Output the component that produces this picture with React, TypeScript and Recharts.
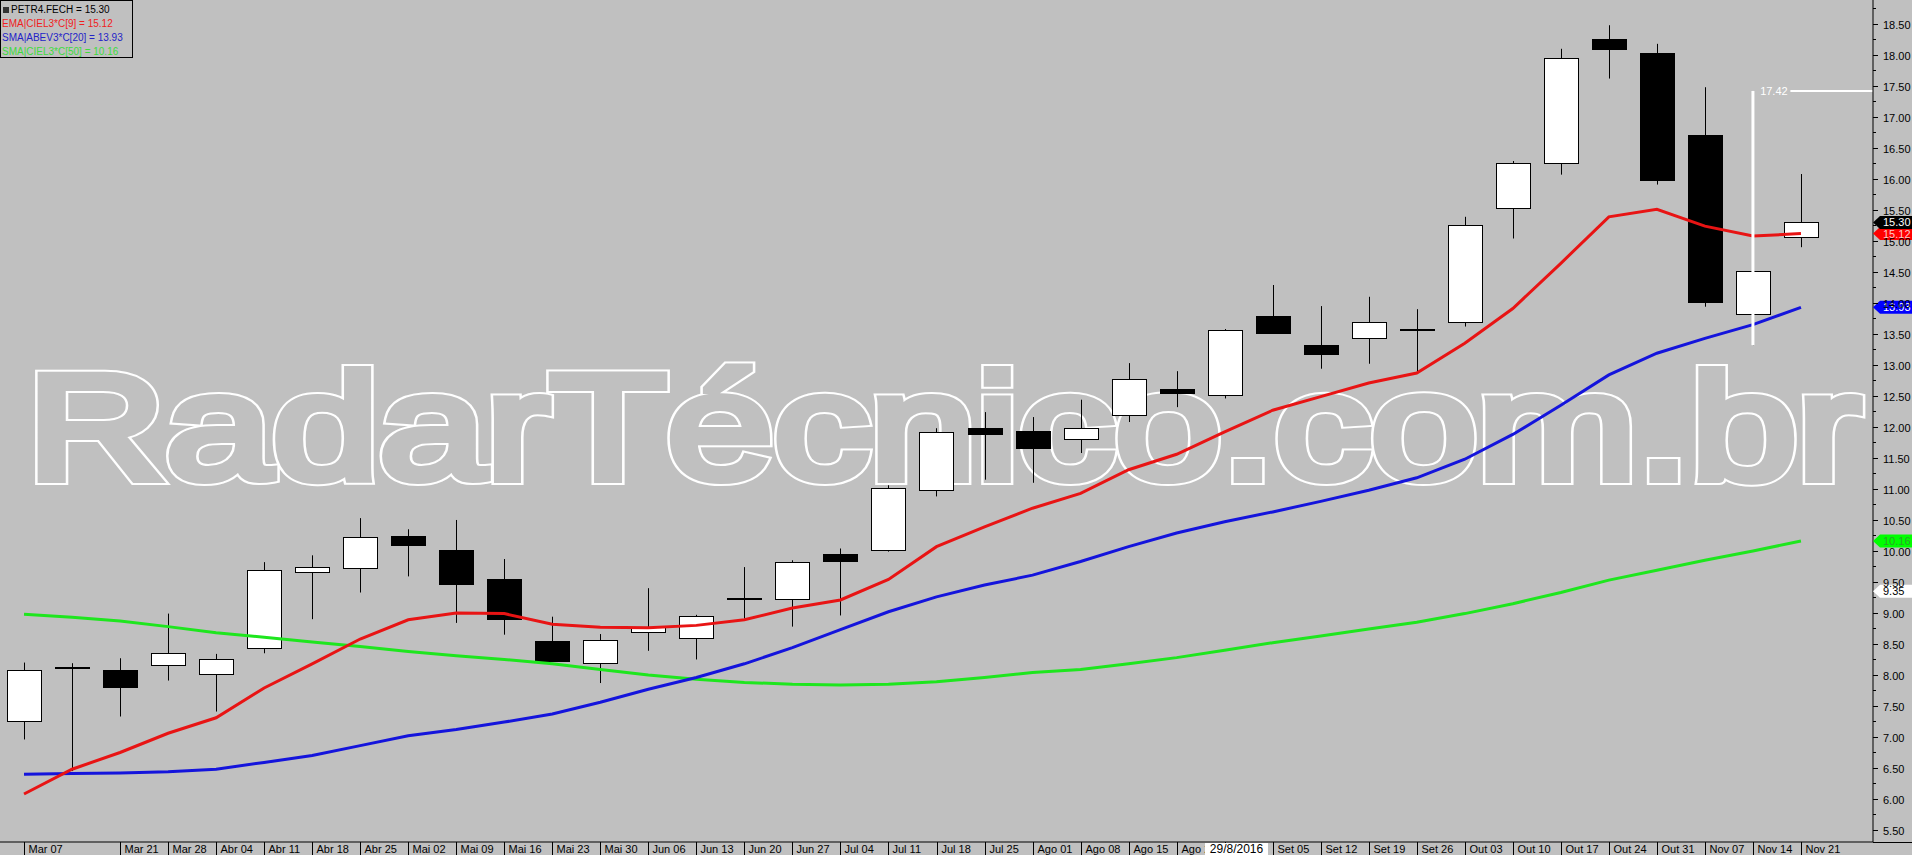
import { ComposedChart, Bar, Line, XAxis, YAxis, ReferenceLine, ReferenceDot } from 'recharts';

// weekly candles, PETR4
const WEEKS = [
  'Mar 07', 'Mar 14', 'Mar 21', 'Mar 28', 'Abr 04', 'Abr 11', 'Abr 18', 'Abr 25',
  'Mai 02', 'Mai 09', 'Mai 16', 'Mai 23', 'Mai 30', 'Jun 06', 'Jun 13', 'Jun 20',
  'Jun 27', 'Jul 04', 'Jul 11', 'Jul 18', 'Jul 25', 'Ago 01', 'Ago 08', 'Ago 15',
  'Ago 22', 'Ago 29', 'Set 05', 'Set 12', 'Set 19', 'Set 26', 'Out 03', 'Out 10',
  'Out 17', 'Out 24', 'Out 31', 'Nov 07', 'Nov 14', 'Nov 21',
];
const OPEN = [
  7.25, 8.12, 8.08, 8.16, 8.01, 8.43, 9.66, 9.72, 10.24, 10.02, 9.54, 8.55, 8.19, 8.7, 8.59, 9.22,
  9.22, 9.95, 10.01, 10.98, 11.98, 11.94, 11.8, 12.2, 12.62, 12.51, 13.79, 13.32, 13.43, 13.57,
  13.69, 15.53, 16.25, 18.26, 18.03, 16.71, 13.82, 15.06,
];
const HIGH = [
  8.2, 8.19, 8.27, 8.99, 8.34, 9.82, 9.93, 10.53, 10.35, 10.5, 9.87, 8.94, 8.66, 9.4, 8.97, 9.74,
  9.85, 10.04, 11.06, 11.98, 12.24, 12.16, 12.44, 13.03, 12.9, 13.58, 14.29, 13.95, 14.1, 13.9,
  15.39, 16.29, 18.1, 18.48, 18.18, 17.48, 14.53, 16.08,
];
const LOW = [
  6.96, 6.45, 7.33, 7.91, 7.41, 8.35, 8.9, 9.33, 9.59, 8.84, 8.65, 8.22, 7.87, 8.39, 8.25, 8.91,
  8.78, 8.96, 9.99, 10.88, 11.15, 11.1, 11.58, 12.08, 12.32, 12.46, 13.5, 12.94, 13.02, 12.89,
  13.62, 15.04, 16.07, 17.62, 15.91, 13.94, 13.32, 14.9,
];
const CLOSE = [
  8.08, 8.13, 7.81, 8.35, 8.25, 9.69, 9.74, 10.22, 10.09, 9.46, 8.91, 8.23, 8.56, 8.78, 8.95, 9.24,
  9.82, 9.84, 11.01, 11.92, 11.88, 11.66, 11.99, 12.78, 12.55, 13.56, 13.52, 13.17, 13.69, 13.58,
  15.25, 16.25, 17.95, 18.1, 15.99, 14.02, 14.51, 15.3,
];
const EMA9 = [
  6.08, 6.48, 6.75, 7.06, 7.31, 7.79, 8.18, 8.58, 8.89, 9.0, 8.99, 8.82, 8.77, 8.76, 8.8, 8.89,
  9.08, 9.21, 9.54, 10.07, 10.39, 10.69, 10.93, 11.31, 11.56, 11.92, 12.27, 12.49, 12.71, 12.87,
  13.35, 13.91, 14.64, 15.39, 15.51, 15.24, 15.08, 15.12,
];
const SMA20 = [
  6.4, 6.41, 6.42, 6.44, 6.48, 6.59, 6.7, 6.86, 7.02, 7.12, 7.24, 7.37, 7.56, 7.77, 7.96, 8.18,
  8.44, 8.73, 9.02, 9.26, 9.45, 9.61, 9.83, 10.07, 10.29, 10.47, 10.63, 10.8, 10.98, 11.18,
  11.48, 11.88, 12.35, 12.84, 13.19, 13.43, 13.65, 13.93,
];
const SMA50 = [
  8.98, 8.93, 8.87, 8.78, 8.68, 8.61, 8.53, 8.46, 8.38, 8.31, 8.25, 8.18, 8.09, 8.0, 7.93, 7.88,
  7.85, 7.84, 7.85, 7.89, 7.96, 8.04, 8.09, 8.18, 8.28, 8.4, 8.52, 8.63, 8.74, 8.85,
  8.99, 9.15, 9.33, 9.53, 9.69, 9.85, 10.0, 10.16,
];

// Mar 14 has no label on the time axis
const X_LABELED = WEEKS.map((_, i) => i).filter((i) => i !== 1);
const Y_MAJOR = [
  5.5, 6, 6.5, 7, 7.5, 8, 8.5, 9, 9.5, 10, 10.5, 11, 11.5, 12, 12.5, 13, 13.5, 14, 14.5, 15,
  15.5, 16, 16.5, 17, 17.5, 18, 18.5,
];
const Y_TICKS = Y_MAJOR.flatMap((v) => [v, v + 0.25]);

// crosshair drawn on the chart
const CROSS_WEEK = 36;
const CROSS_TOP = 17.42;
const CROSS_LOW = 13.32;
const CURSOR_PRICE = 9.35;
const CURSOR_DATE = '29/8/2016';
const WATERMARK = 'RadarTécnico.com.br';

const rows = WEEKS.map((week, i) => ({
  i,
  week,
  open: OPEN[i],
  high: HIGH[i],
  low: LOW[i],
  close: CLOSE[i],
  ema: EMA9[i],
  sma20: SMA20[i],
  sma50: SMA50[i],
}));

const last = WEEKS.length - 1;
const W = 1912;
const H = 855;
const PLOT_W = 1873;
const PLOT_H = 842;
const BG = '#c0c0c0';
const FONT = '"Liberation Sans", Arial, sans-serif';
const RED = '#e81414';
const BLUE = '#1414dc';
const GREEN = '#1ee61e';

function Candle(props: any) {
  const { x, y, width, height, payload } = props;
  if (!payload || height == null) return null;
  const top = Math.min(y, y + height);
  const h = Math.abs(height);
  const k = h / (payload.high - payload.low);
  const py = (v: number) => top + (payload.high - v) * k;
  const cx = Math.round(x + width / 2) + 0.5;
  const up = payload.close >= payload.open;
  const bTop = Math.round(py(Math.max(payload.open, payload.close))) + 0.5;
  const bBot = Math.round(py(Math.min(payload.open, payload.close))) + 0.5;
  return (
    <g>
      <line x1={cx} x2={cx} y1={top} y2={top + h} stroke="#000" strokeWidth={1} />
      <rect
        x={cx - 17}
        y={bTop}
        width={34}
        height={Math.max(bBot - bTop, 1)}
        fill={up ? '#fff' : '#000'}
        stroke="#000"
        strokeWidth={1}
      />
    </g>
  );
}

function XTick({ x, payload }: any) {
  const xx = Math.round(x) + 0.5;
  return (
    <g>
      <line x1={xx} x2={xx} y1={PLOT_H} y2={H} stroke="#000" />
      <text x={xx + 4} y={853} fontSize={11} fontFamily={FONT} fill="#000">
        {WEEKS[payload.value]}
      </text>
    </g>
  );
}

function YTick({ y, payload }: any) {
  const v = payload.value as number;
  const major = Math.abs(v * 2 - Math.round(v * 2)) < 1e-6;
  const yy = Math.round(y) + 0.5;
  return (
    <g>
      <line x1={PLOT_W} x2={PLOT_W + (major ? 5 : 3)} y1={yy} y2={yy} stroke="#000" />
      {major && (
        <text x={PLOT_W + 10} y={yy + 4} fontSize={11} fontFamily={FONT} fill="#000">
          {v.toFixed(2)}
        </text>
      )}
    </g>
  );
}

const priceTag = (bg: string, fg: string, value: number) => (p: any) => {
  const { cx, cy } = p;
  const pts = `${cx},${cy} ${cx + 7},${cy - 6.5} ${W},${cy - 6.5} ${W},${cy + 6.5} ${cx + 7},${cy + 6.5}`;
  return (
    <g>
      <polygon points={pts} fill={bg} />
      <text x={cx + 10} y={cy + 4} fontSize={11} fontFamily={FONT} fill={fg}>
        {value.toFixed(2)}
      </text>
    </g>
  );
};

const crossLabel = (p: any) => (
  <text x={p.cx} y={p.cy + 4} fontSize={11} fontFamily={FONT} fill="#fff">
    {CROSS_TOP.toFixed(2)}
  </text>
);

// outlined heavy lettering: a wide white stroke, then a narrower background stroke on top
function Watermark() {
  const common = {
    x: 27,
    y: 479,
    fontSize: 151,
    fontFamily: FONT,
    textLength: 1834,
    lengthAdjust: 'spacingAndGlyphs' as const,
    fill: BG,
  };
  return (
    <svg width={W} height={H} style={{ position: 'absolute', left: 0, top: 0 }}>
      <text {...common} stroke="#fff" strokeWidth={12}>
        {WATERMARK}
      </text>
      <text {...common} stroke={BG} strokeWidth={8}>
        {WATERMARK}
      </text>
    </svg>
  );
}

export default function App() {
  return (
    <div style={{ position: 'relative', width: W, height: H, background: BG, overflow: 'hidden' }}>
      <style>{'body{margin:0}'}</style>
      <Watermark />
      <div style={{ position: 'absolute', left: 0, top: 0 }}>
        <ComposedChart width={W} height={H} data={rows} margin={{ top: 0, right: 0, bottom: 0, left: 0 }}>
          <XAxis
            dataKey="i"
            type="number"
            domain={[-0.5, 38.5]}
            allowDataOverflow
            ticks={X_LABELED}
            interval={0}
            height={13}
            tick={<XTick />}
            tickLine={false}
            axisLine={{ stroke: '#000' }}
          />
          <YAxis
            orientation="right"
            type="number"
            domain={[5.306, 18.887]}
            allowDataOverflow
            ticks={Y_TICKS}
            interval={0}
            width={39}
            tick={<YTick />}
            tickLine={false}
            tickSize={0}
            tickMargin={0}
            axisLine={{ stroke: '#000' }}
          />
          <Bar
            dataKey={(d: any) => [d.low, d.high]}
            barSize={34}
            shape={<Candle />}
            isAnimationActive={false}
          />
          <Line dataKey="sma50" type="linear" stroke={GREEN} strokeWidth={3} dot={false} activeDot={false} isAnimationActive={false} />
          <Line dataKey="sma20" type="linear" stroke={BLUE} strokeWidth={3} dot={false} activeDot={false} isAnimationActive={false} />
          <Line dataKey="ema" type="linear" stroke={RED} strokeWidth={3} dot={false} activeDot={false} isAnimationActive={false} />
          <ReferenceLine
            segment={[{ x: CROSS_WEEK, y: CROSS_TOP }, { x: CROSS_WEEK, y: CROSS_LOW }]}
            stroke="#fff"
            strokeWidth={3}
          />
          <ReferenceLine
            segment={[{ x: 36.78, y: CROSS_TOP }, { x: 38.5, y: CROSS_TOP }]}
            stroke="#fff"
            strokeWidth={2}
          />
          <ReferenceDot x={36.15} y={CROSS_TOP} r={0} ifOverflow="visible" shape={crossLabel} />
          <ReferenceDot x={38.5} y={SMA50[last]} r={0} ifOverflow="visible" shape={priceTag('#00ff00', '#2aa52a', SMA50[last])} />
          <ReferenceDot x={38.5} y={CURSOR_PRICE} r={0} ifOverflow="visible" shape={priceTag('#ffffff', '#000', CURSOR_PRICE)} />
          <ReferenceDot x={38.5} y={SMA20[last]} r={0} ifOverflow="visible" shape={priceTag('#0000ff', '#fff', SMA20[last])} />
          <ReferenceDot x={38.5} y={EMA9[last]} r={0} ifOverflow="visible" shape={priceTag('#ff0000', '#ffc8c8', EMA9[last])} />
          <ReferenceDot x={38.5} y={CLOSE[last]} r={0} ifOverflow="visible" shape={priceTag('#000', '#fff', CLOSE[last])} />
        </ComposedChart>
      </div>
      <div style={{ position: 'absolute', left: PLOT_W, top: PLOT_H, width: W - PLOT_W, height: 1, background: '#000' }} />
      <div
        style={{
          position: 'absolute',
          left: 1205,
          top: 843,
          width: 63,
          height: 12,
          background: '#fff',
          fontFamily: FONT,
          fontSize: 12,
          lineHeight: '12px',
          textAlign: 'center',
          color: '#000',
        }}
      >
        {CURSOR_DATE}
      </div>
      <div
        style={{
          position: 'absolute',
          left: 0,
          top: 0,
          width: 133,
          height: 58,
          boxSizing: 'border-box',
          border: '1px solid #000',
          fontFamily: FONT,
          fontSize: 10,
          lineHeight: '14px',
          paddingTop: 2,
          paddingLeft: 1,
          whiteSpace: 'nowrap',
        }}
      >
        <div style={{ color: '#000' }}>
          <span style={{ display: 'inline-block', width: 6, height: 6, background: '#333', margin: '0 2px 0 1px' }} />
          PETR4.FECH = {CLOSE[last].toFixed(2)}
        </div>
        <div style={{ color: '#f02020' }}>EMA|CIEL3*C[9] = {EMA9[last].toFixed(2)}</div>
        <div style={{ color: '#2323c8' }}>SMA|ABEV3*C[20] = {SMA20[last].toFixed(2)}</div>
        <div style={{ color: '#3ddc3d' }}>SMA|CIEL3*C[50] = {SMA50[last].toFixed(2)}</div>
      </div>
    </div>
  );
}
